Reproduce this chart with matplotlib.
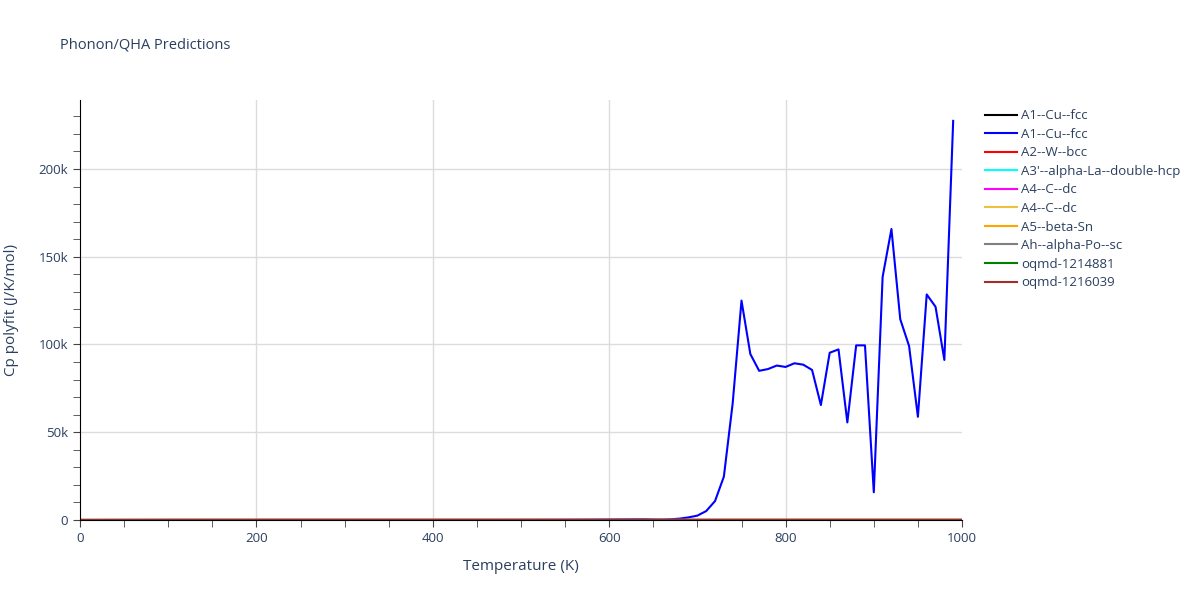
import matplotlib.pyplot as plt
from matplotlib.ticker import FuncFormatter, MultipleLocator, FixedLocator

# temperatures (K) for the sampled series
temps = [0, 10, 20, 30, 40, 50, 60, 70, 80, 90,
         100, 110, 120, 130, 140, 150, 160, 170, 180, 190,
         200, 210, 220, 230, 240, 250, 260, 270, 280, 290,
         300, 310, 320, 330, 340, 350, 360, 370, 380, 390,
         400, 410, 420, 430, 440, 450, 460, 470, 480, 490,
         500, 510, 520, 530, 540, 550, 560, 570, 580, 590,
         600, 610, 620, 630, 640, 650, 660, 670, 680, 690,
         700, 710, 720, 730, 740, 750, 760, 770, 780, 790,
         800, 810, 820, 830, 840, 850, 860, 870, 880, 890,
         900, 910, 920, 930, 940, 950, 960, 970, 980, 990]

# A1--Cu--fcc (blue), the one that blows up
cuBlue = [0, 1, 5, 10, 14, 17, 19, 20, 21, 22,
          23, 23, 23, 24, 24, 24, 24, 24, 24, 24,
          25, 25, 25, 25, 25, 25, 25, 25, 25, 25,
          25, 26, 26, 26, 26, 26, 26, 27, 27, 28,
          28, 29, 30, 31, 32, 34, 36, 39, 42, 47,
          52, 58, 66, 76, 90, 105, 125, 150, 180, 220,
          260, 300, 330, 360, 380, 250, 200, 400, 800, 1500,
          2500, 5100, 10800, 24700, 66500, 125000, 94600, 85000, 86000, 88000,
          87200, 89300, 88500, 85500, 65500, 95300, 97200, 55600, 99500, 99500,
          15800, 138500, 165800, 114400, 99100, 58800, 128500, 121500, 91200, 227400]

# the other structures, all stay ~ Dulong-Petit on this scale
sparseT = [0, 100, 200, 300, 400, 500, 600, 700, 800, 900, 1000]
otherNames = ["A1--Cu--fcc", "A2--W--bcc", "A3'--alpha-La--double-hcp", "A4--C--dc",
              "A4--C--dc", "A5--beta-Sn", "Ah--alpha-Po--sc", "oqmd-1214881", "oqmd-1216039"]
otherVals = [
    [0, 16, 22, 24, 25, 25, 26, 26, 27, 27, 28],
    [0, 14, 21, 23, 24, 25, 25, 26, 26, 27, 27],
    [0, 22, 25, 26, 26, 27, 27, 28, 28, 29, 29],
    [0, 6, 13, 17, 19, 21, 22, 22, 23, 23, 24],
    [0, 6, 13, 17, 19, 21, 22, 22, 23, 23, 24],
    [0, 22, 25, 26, 27, 27, 28, 28, 29, 29, 30],
    [0, 20, 24, 25, 26, 26, 27, 27, 28, 28, 29],
    [0, 18, 23, 25, 25, 26, 26, 27, 27, 28, 28],
    [0, 19, 24, 25, 26, 26, 27, 27, 28, 28, 29],
]
otherColors = ["black", "red", "cyan", "magenta", "#f0c040", "orange", "grey", "green", "brown"]

xTicks = [0, 200, 400, 600, 800, 1000]

txtColor = "#2a3f5f"
plt.rcParams['font.family'] = ['Open Sans', 'DejaVu Sans']

fig = plt.figure(figsize=(12, 6), dpi=100)
ax = fig.add_axes([80/1200, 80/600, 882/1200, 420/600])

# black first, then blue, then the rest (legend order)
ax.plot(sparseT, otherVals[0], color=otherColors[0], lw=1.5, label=otherNames[0])
ax.plot(temps, cuBlue, color="blue", lw=1.5, label="A1--Cu--fcc")
for name, vals, col in zip(otherNames[1:], otherVals[1:], otherColors[1:]):
    ax.plot(sparseT, vals, color=col, lw=1.5, label=name)

ax.set_xlim(0, 1000)
ax.set_ylim(0, 239300)

#grid + ticks plotly-ish
ax.xaxis.set_major_locator(FixedLocator(xTicks))
ax.xaxis.set_minor_locator(MultipleLocator(50))
ax.yaxis.set_major_locator(MultipleLocator(50000))
ax.yaxis.set_minor_locator(MultipleLocator(10000))
ax.yaxis.set_major_formatter(FuncFormatter(lambda v, p: "0" if v == 0 else "%dk" % (v/1000)))
ax.grid(True, axis='y', which='major', color="#dcdcdc", lw=1)
# vertical gridlines, skip the edges
for xv in xTicks[1:-1]:
    ax.axvline(xv, color="#dcdcdc", lw=1, zorder=0)
ax.set_axisbelow(True)
ax.tick_params(which='both', direction='out', color="#444444", labelcolor=txtColor, labelsize=9.5)
ax.tick_params(which='major', length=5)
ax.tick_params(which='minor', length=5)
ax.tick_params(axis='x', which='major', pad=4)

for s in ['top', 'right']:
    ax.spines[s].set_visible(False)
ax.spines['left'].set_color("black")
ax.spines['bottom'].set_color("black")

ax.set_xlabel("Temperature (K)", fontsize=11, color=txtColor, labelpad=10)
ax.set_ylabel("Cp polyfit (J/K/mol)", fontsize=11, color=txtColor, labelpad=14)
fig.text(60/1200, 1 - 45/600, "Phonon/QHA Predictions", fontsize=10.5, color=txtColor, va='center')

ax.legend(loc='upper left', bbox_to_anchor=(980/1200, 1 - 104/600), bbox_transform=fig.transFigure,
          frameon=False, fontsize=9.5, labelcolor=txtColor, handlelength=2.4, handletextpad=0.3,
          labelspacing=0.42, borderaxespad=0)

fig.savefig("out.png", dpi=100)
